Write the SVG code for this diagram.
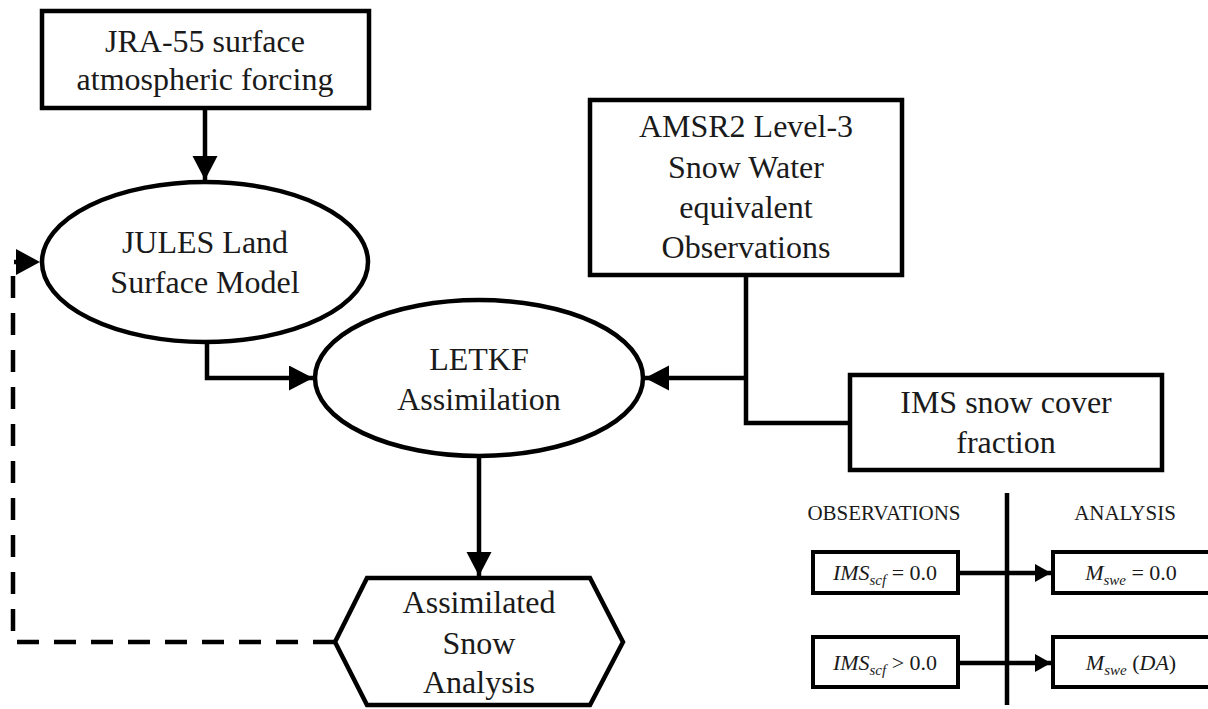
<svg xmlns="http://www.w3.org/2000/svg" width="1208" height="709" viewBox="0 0 1208 709">
<style>
.box{fill:#fff;stroke:#000;stroke-width:4.5}
.t{font-family:"Liberation Serif","Times New Roman",serif;font-size:32px;fill:#1a1a1a;text-anchor:middle}
.lg{font-family:"Liberation Serif","Times New Roman",serif;font-size:21px;fill:#1a1a1a;text-anchor:middle}
.m{font-family:"Liberation Serif","Times New Roman",serif;font-size:22px;fill:#1a1a1a;text-anchor:middle}
.c{fill:none;stroke:#000;stroke-width:4.5}
.d{fill:none;stroke:#000;stroke-width:4.5;stroke-dasharray:22 15}
.sb{fill:#fff;stroke:#000;stroke-width:4}
</style>
<defs>
<marker id="ah" markerUnits="userSpaceOnUse" markerWidth="26" markerHeight="26" refX="24" refY="12.5" orient="auto" viewBox="0 0 26 26">
<path d="M0,0 L24,12.5 L0,25 z" fill="#000"/>
</marker>
<marker id="sah" markerUnits="userSpaceOnUse" markerWidth="18" markerHeight="20" refX="16" refY="9" orient="auto" viewBox="0 0 18 20">
<path d="M0,0 L16,9 L0,18 z" fill="#000"/>
</marker>
</defs>

<g id="connectors">
<path class="c" d="M205,108 V180" marker-end="url(#ah)"/>
<path class="c" d="M207,343 V378 H313" marker-end="url(#ah)"/>
<path class="c" d="M746,275 V423 H850"/>
<path class="c" d="M746,378 H645" marker-end="url(#ah)"/>
<path class="c" d="M479,457 V576" marker-end="url(#ah)"/>
<path class="d" d="M335,642 H13 V262 H18"/>
<path d="M16,249 L40,262 L16,275 z" fill="#000"/>
<path class="c" d="M1007,493 V705"/>
<path class="c" stroke-width="4" d="M958,573 H1051" marker-end="url(#sah)"/>
<path class="c" stroke-width="4" d="M958,663 H1051" marker-end="url(#sah)"/>
</g>

<g id="jra">
<rect class="box" x="42" y="11" width="327" height="97"/>
<text class="t" x="205" y="52">JRA-55 surface</text>
<text class="t" x="205" y="90">atmospheric forcing</text>
</g>

<g id="jules">
<ellipse class="box" cx="205" cy="262" rx="163" ry="80"/>
<text class="t" x="205" y="253">JULES Land</text>
<text class="t" x="205" y="293">Surface Model</text>
</g>

<g id="letkf">
<ellipse class="box" cx="479" cy="378" rx="164" ry="78"/>
<text class="t" x="479" y="370">LETKF</text>
<text class="t" x="479" y="410">Assimilation</text>
</g>

<g id="amsr">
<rect class="box" x="590" y="100" width="312" height="175"/>
<text class="t" x="746" y="137">AMSR2 Level-3</text>
<text class="t" x="746" y="178">Snow Water</text>
<text class="t" x="746" y="218">equivalent</text>
<text class="t" x="746" y="258">Observations</text>
</g>

<g id="ims">
<rect class="box" x="850" y="375" width="312" height="95"/>
<text class="t" x="1006" y="413">IMS snow cover</text>
<text class="t" x="1006" y="453">fraction</text>
</g>

<g id="analysis">
<polygon class="box" points="367,578 590,578 623,642 590,705 367,705 335,642"/>
<text class="t" x="479" y="613">Assimilated</text>
<text class="t" x="479" y="654">Snow</text>
<text class="t" x="479" y="693">Analysis</text>
</g>

<g id="legend">
<text class="lg" x="884" y="520">OBSERVATIONS</text>
<text class="lg" x="1125" y="520">ANALYSIS</text>
</g>

<g id="obs1">
<rect class="sb" x="813" y="552" width="145" height="41"/>
<text class="m" x="885" y="580"><tspan font-style="italic">IMS</tspan><tspan font-style="italic" font-size="15" dy="5">scf</tspan><tspan dy="-5"> = 0.0</tspan></text>
</g>
<g id="obs2">
<rect class="sb" x="813" y="637" width="145" height="50"/>
<text class="m" x="885" y="670"><tspan font-style="italic">IMS</tspan><tspan font-style="italic" font-size="15" dy="5">scf</tspan><tspan dy="-5"> &gt; 0.0</tspan></text>
</g>
<g id="ana1">
<rect class="sb" x="1053" y="552" width="160" height="41"/>
<text class="m" x="1131" y="580"><tspan font-style="italic">M</tspan><tspan font-style="italic" font-size="15" dy="5">swe</tspan><tspan dy="-5"> = 0.0</tspan></text>
</g>
<g id="ana2">
<rect class="sb" x="1053" y="637" width="160" height="50"/>
<text class="m" x="1131" y="670"><tspan font-style="italic">M</tspan><tspan font-style="italic" font-size="15" dy="5">swe</tspan><tspan dy="-5"> (</tspan><tspan font-style="italic">DA</tspan><tspan>)</tspan></text>
</g>
</svg>
